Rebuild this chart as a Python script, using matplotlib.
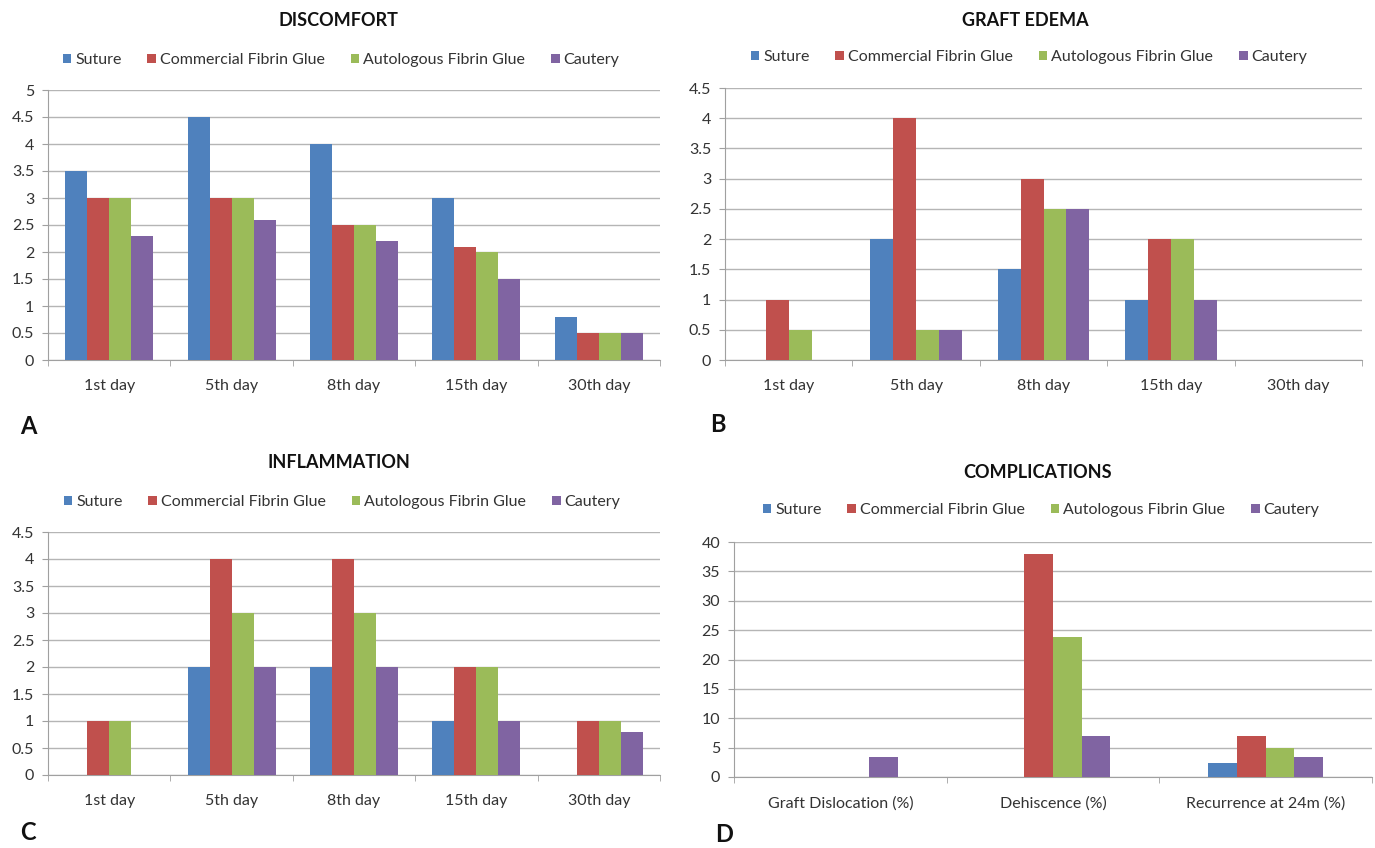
import matplotlib
matplotlib.use("Agg")
import matplotlib.pyplot as plt
import numpy as np
from matplotlib.patches import Patch
from matplotlib.ticker import FuncFormatter, FixedLocator

plt.rcParams['font.family'] = ['Lato', 'DejaVu Sans']

series = ["Suture", "Commercial Fibrin Glue", "Autologous Fibrin Glue", "Cautery"]
colors = ["#4F81BD", "#C0504D", "#9BBB59", "#8064A2"]

days = ["1st day", "5th day", "8th day", "15th day", "30th day"]

discomfort_suture = [3.5, 4.5, 4.0, 3.0, 0.8]
discomfort_cfg = [3.0, 3.0, 2.5, 2.1, 0.5]
discomfort_afg = [3.0, 3.0, 2.5, 2.0, 0.5]
discomfort_cautery = [2.3, 2.6, 2.2, 1.5, 0.5]

edema_suture = [0, 2.0, 1.5, 1.0, 0]
edema_cfg = [1.0, 4.0, 3.0, 2.0, 0]
edema_afg = [0.5, 0.5, 2.5, 2.0, 0]
edema_cautery = [0, 0.5, 2.5, 1.0, 0]

inflam_suture = [0, 2.0, 2.0, 1.0, 0]
inflam_cfg = [1.0, 4.0, 4.0, 2.0, 1.0]
inflam_afg = [1.0, 3.0, 3.0, 2.0, 1.0]
inflam_cautery = [0, 2.0, 2.0, 1.0, 0.8]

complications = ["Graft Dislocation (%)", "Dehiscence (%)", "Recurrence at 24m (%)"]
comp_suture = [0, 0, 2.3]
comp_cfg = [0, 38.0, 7.0]
comp_afg = [0, 23.8, 5.0]
comp_cautery = [3.4, 7.0, 3.4]

W, H = 1375, 848
fig = plt.figure(figsize=(W / 100, H / 100), dpi=100)


def fx(px):
    return px / W


def fy(py):
    return 1 - py / H


def panel(rect, cats, data, ymax, ystep, width, title, title_xy, leg_xy, letter, letter_xy):
    ax = fig.add_axes(rect)
    x = np.arange(len(cats))
    n = len(data)
    for i, (vals, c) in enumerate(zip(data, colors)):
        ax.bar(x + (i - (n - 1) / 2) * width, vals, width, color=c, zorder=3, linewidth=0)
    ax.set_xlim(-0.5, len(cats) - 0.5)
    ax.set_ylim(0, ymax)
    ax.set_yticks(np.arange(0, ymax + ystep / 2, ystep))
    ax.yaxis.set_major_formatter(FuncFormatter(lambda v, p: "%g" % v))
    ax.grid(axis='y', color='#B5B5B5', linewidth=1.0, zorder=0)
    ax.set_xticks(x)
    ax.set_xticklabels(cats)
    ax.xaxis.set_minor_locator(FixedLocator(np.arange(-0.5, len(cats), 1.0)))
    ax.tick_params(axis='x', which='major', length=0, pad=14, labelsize=11.5, colors='#333333')
    ax.tick_params(axis='x', which='minor', length=4, color='#A0A0A0', direction='out')
    ax.tick_params(axis='y', length=4, color='#A0A0A0', labelsize=11.5, labelcolor='#333333', pad=6)
    for s in ['top', 'right']:
        ax.spines[s].set_visible(False)
    ax.spines['left'].set_color('#A0A0A0')
    ax.spines['bottom'].set_color('#A0A0A0')
    fig.text(fx(title_xy[0]), fy(title_xy[1]), title, ha='center', va='center',
             fontsize=13, fontweight='bold', color='#111111')
    handles = [Patch(facecolor=c, edgecolor='none') for c in colors]
    fig.legend(handles, series, loc='center', bbox_to_anchor=(fx(leg_xy[0]), fy(leg_xy[1])),
               ncol=4, frameon=False, fontsize=11.5, handlelength=0.55, handleheight=0.55,
               handletextpad=0.25, columnspacing=1.6, labelcolor='#333333')
    fig.text(fx(letter_xy[0]), fy(letter_xy[1]), letter, ha='center', va='center',
             fontsize=17, fontweight='bold', color='#111111')
    return ax


panel([fx(48), fy(360), fx(612), 270 / H], days,
      [discomfort_suture, discomfort_cfg, discomfort_afg, discomfort_cautery],
      5, 0.5, 0.18, "DISCOMFORT", (338, 20), (341, 60), "A", (28, 427))

panel([fx(725), fy(360), fx(637), 272 / H], days,
      [edema_suture, edema_cfg, edema_afg, edema_cautery],
      4.5, 0.5, 0.18, "GRAFT EDEMA", (1025, 20), (1029, 57), "B", (718, 425))

panel([fx(48), fy(775), fx(612), 243 / H], days,
      [inflam_suture, inflam_cfg, inflam_afg, inflam_cautery],
      4.5, 0.5, 0.18, "INFLAMMATION", (339, 463), (342, 502), "C", (28, 832))

panel([fx(734), fy(777), fx(638), 235 / H], complications,
      [comp_suture, comp_cfg, comp_afg, comp_cautery],
      40, 5, 0.135, "COMPLICATIONS", (1038, 473), (1041, 510), "D", (724, 834))

fig.savefig("out.png", dpi=100, facecolor='white')
